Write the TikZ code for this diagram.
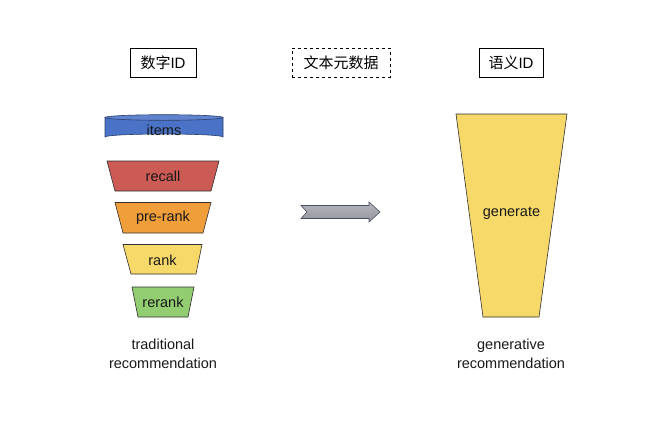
\documentclass[tikz,border=0pt]{standalone}
\usepackage{fontspec}
\setmainfont{Liberation Sans}
\newfontfamily\cjk{Noto Sans CJK SC}
\definecolor{itemblue}{HTML}{4A72C6}
\definecolor{recallred}{HTML}{CC5A55}
\definecolor{prerankorange}{HTML}{F09E3A}
\definecolor{rankyellow}{HTML}{F7D96A}
\definecolor{rerankgreen}{HTML}{93CD72}
\definecolor{arrowgray}{HTML}{A4A5AD}
\definecolor{arrowedge}{HTML}{4A5060}
\definecolor{edgedark}{HTML}{303030}
\begin{document}
\begin{tikzpicture}[x=1pt,y=-1pt,
  lbl/.style={font=\fontsize{14.5}{17}\selectfont, inner sep=0pt, text=black!90},
  titlebox/.style={draw=black, line width=0.8pt, minimum width=66pt, minimum height=29pt, inner sep=0pt, font=\fontsize{15}{18}\selectfont},
  funnel/.style={draw=edgedark, line width=0.6pt}]
\useasboundingbox (0,0) rectangle (653,445);
\fill[white] (0,0) rectangle (653,445);

% title boxes
\node[titlebox] (num) at (163,62.5) {{\cjk 数字}ID};
\node[titlebox, dashed, minimum width=98pt] (txt) at (341,62.5) {\cjk 文本元数据};
\node[titlebox, minimum width=64pt] (sem) at (511,62.5) {{\cjk 语义}ID};

% items cylinder
\fill[itemblue] (105,117.5) -- (105,137) arc[start angle=180, end angle=360, x radius=59, y radius=3] -- (223,117.5) -- cycle;
\draw[funnel, draw=itemblue!55!black] (105,117.5) -- (105,137) arc[start angle=180, end angle=360, x radius=59, y radius=3] -- (223,117.5);
\draw[funnel, draw=itemblue!55!black, fill=itemblue!88!white] (164,117.5) ellipse[x radius=59, y radius=2.8];
\node[lbl] (items) at (164,130) {items};

% recall
\draw[funnel, fill=recallred] (107,161) -- (219,161) -- (211,191) -- (115,191) -- cycle;
\node[lbl] (recall) at (163,176) {recall};
% pre-rank
\draw[funnel, fill=prerankorange] (115,202.5) -- (211,202.5) -- (203,233) -- (123,233) -- cycle;
\node[lbl] (prerank) at (163,218) {pre-rank};
% rank
\draw[funnel, fill=rankyellow] (123,244.5) -- (202,244.5) -- (196,274) -- (131,274) -- cycle;
\node[lbl] (rank) at (162.5,260) {rank};
% rerank
\draw[funnel, fill=rerankgreen] (132,287) -- (194,287) -- (188,317) -- (138,317) -- cycle;
\node[lbl] (rerank) at (163,302) {rerank};

\node[lbl, align=center, font=\fontsize{14.5}{19.5}\selectfont] (trad) at (163,354) {traditional\\recommendation};

% arrow
\coordinate (atail) at (301,212);
\coordinate (atip) at (380,212);
\draw[draw=arrowedge, line width=0.6pt, top color=arrowgray!80!white, bottom color=arrowgray!90!black, middle color=arrowgray]
  (301,205.5) -- (369,205.5) -- (369,202) -- (atip) -- (369,222) -- (369,218.5) -- (301,218.5) -- (307,212) -- cycle;

% generate
\draw[funnel, fill=rankyellow] (456,114) -- (567,114) -- (539,317) -- (483,317) -- cycle;
\node[lbl] (gen) at (511.5,213.5) {generate};
\node[lbl, align=center, font=\fontsize{14.5}{19.5}\selectfont] (genrec) at (511,354) {generative\\recommendation};
\end{tikzpicture}
\end{document}
